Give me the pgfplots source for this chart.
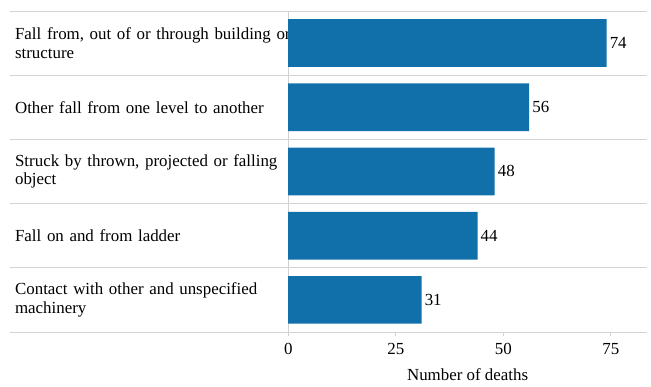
\documentclass[border=0pt]{standalone}
\usepackage{pgfplots}
\pgfplotsset{compat=1.18}
\usepackage{fontspec}
\setmainfont{Liberation Serif}
\definecolor{barblue}{RGB}{17,112,170}
\definecolor{gridgray}{RGB}{210,210,210}
\begin{document}
\fontsize{17}{18.5}\selectfont
\begin{tikzpicture}
\begin{axis}[
  scale only axis,
  width=361pt, height=323pt,
  xbar, bar width=48pt,
  y dir=reverse,
  ymin=-0.5, ymax=4.5,
  xmin=0, xmax=83.4,
  ytick={0,1,2,3,4},
  yticklabels={{Fall from, out of or through building or\\structure},
               {Other fall from one level to another},
               {Struck by thrown, projected or falling\\object},
               {Fall on and from ladder},
               {Contact with other and unspecified\\machinery}},
  yticklabel style={anchor=west, text width=290pt, align=left, inner sep=0pt, xshift=-271pt, font=\fontsize{17}{18.5}\selectfont},
  major y tick style={draw=none},
  xtick={0,25,50,75},
  xtick pos=lower,
  xticklabel style={font=\fontsize{17}{18}\selectfont, yshift=-2pt},
  /pgf/number format/assume math mode=true,
  major x tick style={gridgray, line width=0.8pt},
  tick align=outside,
  major tick length=4pt,
  axis line style={draw=none},
  xlabel={Number of deaths},
  xlabel style={font=\fontsize{17}{18}\selectfont, yshift=-2pt},
  nodes near coords,
  nodes near coords style={font=\fontsize{17}{18}\selectfont, text=black, inner sep=3pt},
  clip=false,
]
\pgfplotsinvokeforeach{-0.5,0.5,1.5,2.5,3.5,4.5}{
  \draw[gridgray, line width=0.8pt] ([xshift=-280pt]axis cs:0,#1) -- (axis cs:83.4,#1);
}
\draw[gridgray, line width=0.8pt] (axis cs:0,-0.5) -- (axis cs:0,4.5);
\addplot[fill=barblue, draw=none] coordinates {(74,0) (56,1) (48,2) (44,3) (31,4)};
\path ([xshift=-290pt,yshift=11pt]rel axis cs:0,1) rectangle ([yshift=-49pt]rel axis cs:1,0);
\end{axis}
\end{tikzpicture}
\end{document}
